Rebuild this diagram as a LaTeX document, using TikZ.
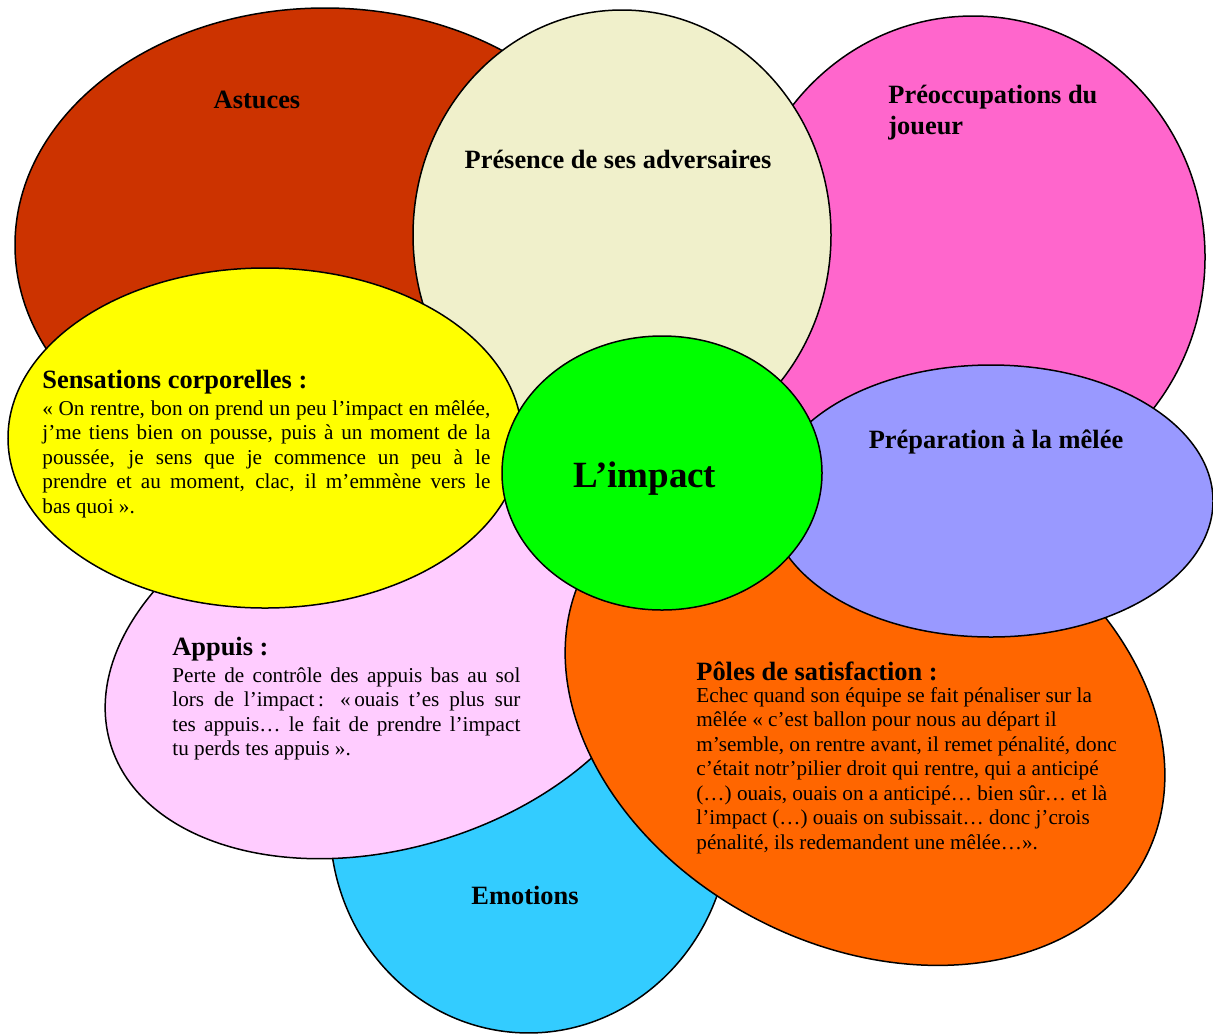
\documentclass[tikz,border=0pt]{standalone}
\usepackage{fontspec}
\setmainfont{Liberation Serif}
\usetikzlibrary{shapes.geometric,positioning}
\definecolor{astucescol}{HTML}{CC3300}
\definecolor{preocccol}{HTML}{FF66CC}
\definecolor{presencecol}{HTML}{F0F0CB}
\definecolor{emotionscol}{HTML}{33CCFF}
\definecolor{appuiscol}{HTML}{FFCCFF}
\definecolor{polescol}{HTML}{FF6600}
\definecolor{prepcol}{HTML}{9999FF}
\definecolor{sensationscol}{HTML}{FFFF00}
\definecolor{impactcol}{HTML}{00FF00}
\hyphenpenalty=10000
\exhyphenpenalty=10000
\begin{document}
\begin{tikzpicture}[x=0.5pt,y=-0.5pt,
  petal/.style={draw=black,line width=0.75pt,ellipse,inner sep=0pt,outer sep=0pt},
  head/.style={font=\fontsize{13.2}{15.2}\selectfont\bfseries,inner sep=0pt},
  body/.style={font=\fontsize{10.6}{12.25}\selectfont,inner sep=0pt}]
\useasboundingbox (0,0) rectangle (1213,1034);
\node[petal,fill=astucescol,minimum width=310pt,minimum height=237pt] (astuces) at (325,245) {};
\node[petal,fill=preocccol,minimum width=232pt,minimum height=241pt] (preocc) at (973,257) {};
\node[petal,fill=presencecol,minimum width=209pt,minimum height=225pt] (presence) at (622,235) {};
\node[petal,fill=emotionscol,minimum width=200pt,minimum height=211pt,rotate=-4] (emotions) at (530,822) {};
\node[petal,fill=appuiscol,minimum width=289pt,minimum height=188pt,rotate=17] (appuis) at (387,660) {};
\node[petal,fill=polescol,minimum width=315pt,minimum height=232pt,rotate=-27] (poles) at (865,714) {};
\node[petal,fill=prepcol,minimum width=222pt,minimum height=136pt] (prep) at (991,501) {};
\node[petal,fill=sensationscol,minimum width=257pt,minimum height=170pt] (sensations) at (265,438) {};
\node[petal,fill=impactcol,minimum width=160pt,minimum height=137pt] (impact) at (662,473) {};

\node[head,anchor=base] (astuceslbl) at (257,108) {Astuces};
\node[head,anchor=base] (presencelbl) at (618,168) {Présence de ses adversaires};
\node[head,anchor=north west,align=left] (preocclbl) at (888,85) {Préoccupations du\\joueur};
\node[head,anchor=base] (preplbl) at (996,448) {Préparation à la mêlée};
\node[head,anchor=base] (emotionslbl) at (525,904) {Emotions};
\node[font=\fontsize{18.5}{21}\selectfont\bfseries,inner sep=0pt,anchor=base] (impactlbl) at (645,487) {L’impact};

\node[head,anchor=base west] (sensationslbl) at (42,388) {Sensations corporelles :};
\node[body,text width=224pt,align=justify,below=3pt of sensationslbl.south west,anchor=north west] (sensationstxt) {« On rentre, bon on prend un peu l’impact en mêlée,\linebreak j’me tiens bien on pousse, puis à un moment de la\linebreak poussée, je sens que je commence un peu à le\linebreak prendre et au moment, clac, il m’emmène vers le\linebreak bas quoi ».};

\node[head,anchor=base west] (appuislbl) at (172,655) {Appuis :};
\node[body,text width=174pt,align=justify,below=3pt of appuislbl.south west,anchor=north west] (appuistxt) {Perte de contrôle des appuis bas au sol\linebreak lors de l’impact\,: «\,ouais t’es plus sur\linebreak tes appuis… le fait de prendre l’impact\linebreak tu perds tes appuis ».};

\node[head,anchor=base west] (poleslbl) at (696,680) {Pôles de satisfaction :};
\node[body,align=left,below=3pt of poleslbl.south west,anchor=north west] (polestxt) {Echec quand son équipe se fait pénaliser sur la\\mêlée « c’est ballon pour nous au départ il\\m’semble, on rentre avant, il remet pénalité, donc\\c’était notr’pilier droit qui rentre, qui a anticipé\\(…) ouais, ouais on a anticipé… bien sûr… et là\\l’impact (…) ouais on subissait… donc j’crois\\pénalité, ils redemandent une mêlée…».};
\end{tikzpicture}
\end{document}
